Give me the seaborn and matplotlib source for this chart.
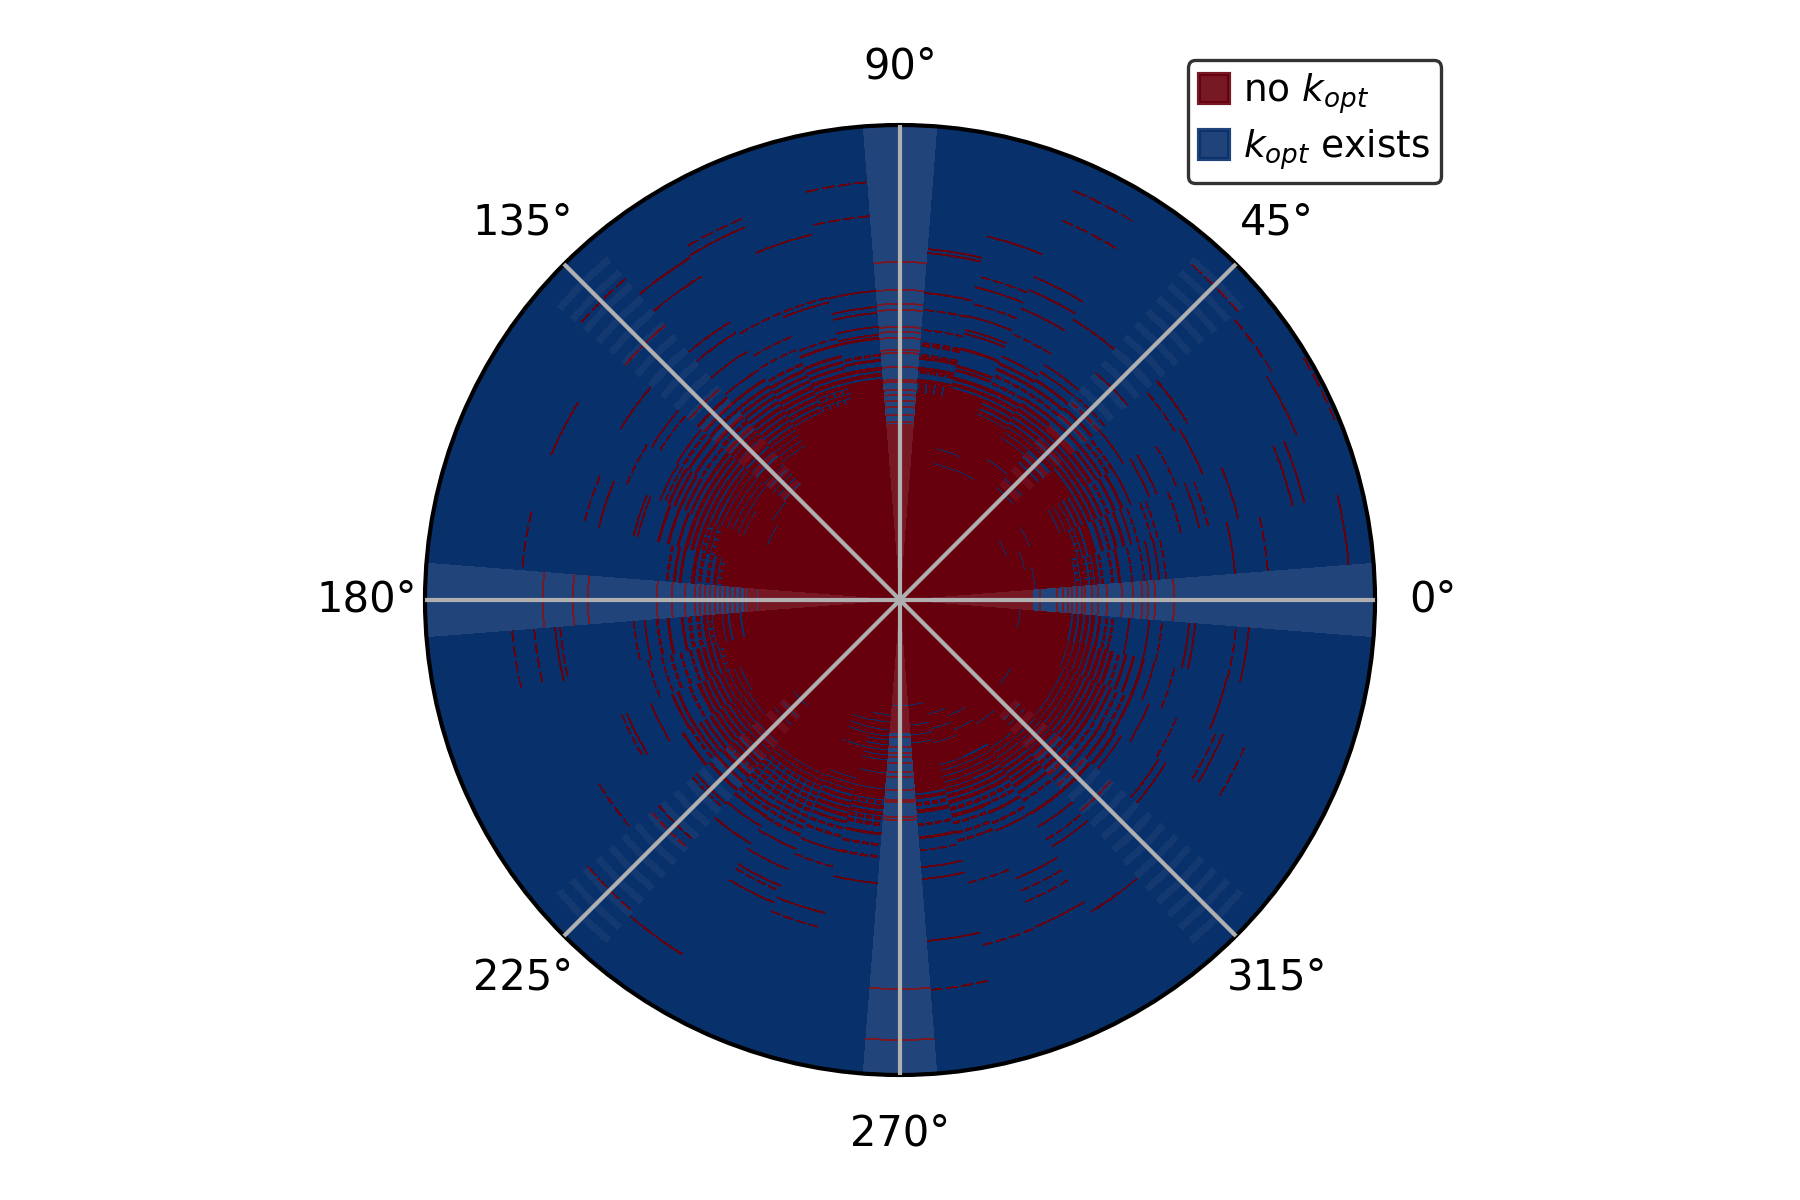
import numpy as np
import matplotlib
matplotlib.use("Agg")
import matplotlib.pyplot as plt
from matplotlib.colors import ListedColormap
from matplotlib.patches import Patch
import seaborn as sns

# Radial extent of the disc and angular sectors (degrees, sector k is centred on 9*k)
R_MAX = 475
N_SECTORS = 40
CELLS_PER_SECTOR = 36
WEDGE_SECTORS = [0, 10, 20, 30]
DIAGONAL_SECTORS = [5, 15, 25, 35]

# Solid "no k_opt" radius per sector
core_r = [133, 142, 148, 158, 168, 176, 174, 174, 174, 175,
          176, 174, 174, 174, 172, 188, 170, 164, 161, 150,
          153, 154, 153, 163, 168, 178, 170, 171, 168, 168,
          131, 156, 164, 158, 164, 174, 168, 168, 163, 139]

# Thin rings where a "k_opt exists" arc cuts the solid core
blue_r = [[], [135], [128], [115, 140], [], [148, 160], [165], [141], [140, 155], [],
          [], [], [], [], [], [153, 160, 166, 172, 178], [150], [143], [], [],
          [142], [], [], [], [], [140, 155, 165], [], [], [123, 130, 136, 150], [115, 122, 130, 136, 140, 145, 150, 155, 160],
          [105], [105, 125, 135, 143], [117, 132, 146], [125, 140], [145], [158, 165], [130], [], [], [120]]

# Rings with no k_opt outside the core, per sector
red_r = [
    [274, 255, 248, 242, 233, 222, 207, 198, 192, 185, 182, 177, 172, 168, 163, 157, 140],
    [450, 369, 336, 267, 260, 252, 245, 233, 220, 213, 203, 198, 193, 187, 184, 179, 174, 169, 165, 161, 157, 152, 147, 144],
    [416, 404, 348, 317, 308, 289, 265, 259, 245, 238, 230, 222, 215, 208, 200, 196, 190, 185, 180, 175, 170, 165, 160, 155, 150],
    [471, 430, 328, 299, 278, 270, 250, 240, 232, 225, 218, 212, 206, 200, 194, 188, 182, 176, 170, 165, 160],
    [437, 338, 323, 262, 249, 243, 236, 230, 224, 218, 212, 206, 200, 195, 190, 185, 180, 175, 170],
    [445, 300, 269, 261, 252, 244, 236, 228, 224, 218, 212, 206, 200, 192, 185, 178],
    [330, 276, 268, 258, 250, 243, 236, 230, 224, 218, 212, 206, 200, 194, 188, 184, 180, 176],
    [445, 413, 350, 336, 316, 289, 264, 256, 250, 243, 235, 228, 222, 216, 210, 204, 198, 193, 188, 184, 180, 176],
    [374, 333, 322, 305, 292, 278, 274, 258, 240, 236, 228, 222, 216, 212, 208, 204, 200, 196, 192, 188, 184, 180, 176],
    [352, 348, 308, 291, 271, 257, 255, 245, 242, 232, 229, 220, 217, 213, 209, 206, 203, 199, 194, 191, 187, 184, 181, 177],
    [338, 310, 296, 290, 273, 268, 262, 250, 247, 233, 220, 218, 210, 205, 199, 193, 185, 178],
    [419, 385, 310, 294, 288, 274, 266, 262, 245, 240, 232, 226, 220, 216, 212, 208, 204, 200, 196, 192, 188, 184, 180, 176],
    [376, 311, 306, 269, 262, 250, 244, 238, 232, 226, 220, 215, 210, 205, 200, 196, 192, 188, 184, 180, 176],
    [413, 404, 311, 285, 271, 255, 248, 242, 236, 230, 224, 218, 212, 206, 200, 195, 190, 185, 180, 176],
    [402, 380, 326, 314, 292, 270, 258, 250, 244, 238, 232, 226, 220, 214, 208, 202, 196, 190, 184, 178, 174],
    [423, 362, 278, 266, 258, 250, 242, 235, 228, 222, 216, 210, 205, 198, 192],
    [328, 292, 283, 262, 255, 248, 240, 233, 226, 220, 214, 208, 202, 196, 190, 184, 178, 172],
    [378, 297, 260, 255, 250, 244, 238, 232, 226, 220, 214, 208, 202, 196, 190, 184, 178, 172, 166],
    [325, 310, 274, 270, 248, 238, 228, 220, 214, 208, 203, 198, 193, 188, 183, 178, 173, 168, 163],
    [379, 233, 226, 220, 208, 201, 193, 186, 181, 176, 171, 166, 161, 156, 151],
    [357, 327, 312, 243, 228, 215, 205, 200, 195, 190, 185, 180, 175, 170, 165, 160, 155],
    [389, 367, 346, 341, 267, 256, 243, 232, 218, 211, 203, 196, 191, 186, 181, 175, 168, 163, 156],
    [259, 245, 235, 225, 215, 208, 202, 196, 190, 185, 180, 175, 170, 165, 160, 155],
    [301, 296, 270, 246, 240, 227, 218, 212, 206, 200, 194, 188, 182, 176, 170, 165],
    [353, 254, 245, 240, 234, 228, 222, 216, 210, 204, 198, 192, 186, 180, 174, 170],
    [411, 327, 317, 273, 268, 250, 240, 232, 225, 220, 214, 208, 202, 196, 190, 184, 180],
    [416, 286, 266, 254, 247, 242, 235, 229, 223, 217, 211, 205, 199, 193, 187, 182, 177, 172],
    [328, 315, 310, 292, 270, 255, 247, 241, 235, 229, 223, 217, 211, 205, 199, 193, 187, 182, 177, 173],
    [337, 322, 275, 258, 243, 235, 228, 222, 216, 210, 204, 198, 192, 186, 180, 175, 170],
    [284, 257, 245, 234, 225, 219, 214, 208, 203, 197, 192, 186, 181, 176, 170],
    [440, 389, 220, 217, 202, 200, 190, 177, 172, 163, 157, 153, 147, 137, 132],
    [391, 342, 280, 268, 251, 238, 225, 212, 205, 198, 192, 188, 184, 180, 176, 172, 168, 163, 158],
    [355, 291, 247, 239, 229, 222, 215, 208, 202, 196, 190, 184, 178, 172, 166],
    [354, 327, 315, 302, 250, 241, 230, 221, 215, 208, 202, 196, 190, 184, 178, 172, 165, 160],
    [366, 290, 281, 266, 250, 235, 226, 218, 212, 206, 200, 194, 188, 182, 176, 170, 166],
    [278, 250, 243, 236, 229, 222, 215, 208, 200, 194, 188, 182, 176],
    [312, 304, 260, 252, 244, 236, 229, 222, 216, 210, 204, 198, 192, 186, 180, 174, 170],
    [375, 350, 343, 301, 270, 250, 243, 235, 228, 222, 216, 210, 204, 198, 192, 186, 180, 174, 170],
    [336, 283, 262, 250, 240, 232, 225, 218, 212, 206, 200, 194, 188, 182, 176, 170, 165],
    [350, 337, 296, 290, 263, 250, 230, 213, 207, 200, 194, 188, 182, 176, 170, 165, 160, 155, 150, 145, 141],
]

# Start radii of the dotted stripes on the diagonals
stripe_r = [152, 170, 188, 206, 224, 241, 258, 275, 292, 309, 326,
            343, 360, 377, 394, 411, 428, 445]

legend_labels = ["no $k_{opt}$", "$k_{opt}$ exists"]

sns.set_theme(style="ticks", font="DejaVu Sans",
              rc={"font.size": 10, "xtick.labelsize": 10, "legend.fontsize": 9,
                  "xtick.major.size": 3.5, "xtick.major.width": 0.8, "text.color": "black"})
# 0/1 plain cells, 2/3 the lighter axis wedges, 4/5 the diagonal stripes
palette = sns.color_palette(["#08306b", "#67000d", "#21457a", "#761925", "#143870", "#6e0c1c"])
cmap = ListedColormap(palette)

n_theta = N_SECTORS * CELLS_PER_SECTOR
r_edges = np.arange(0, R_MAX + 1)
r_mid = r_edges[:-1] + 0.5
theta_edges = np.radians(np.arange(n_theta + 1) * 9 / CELLS_PER_SECTOR - 4.5)

Z = np.zeros((R_MAX, n_theta), dtype=int)
for k in range(N_SECTORS):
    a, b = k * CELLS_PER_SECTOR, (k + 1) * CELLS_PER_SECTOR
    cols = np.arange(a, b)
    wedge = k in WEDGE_SECTORS
    Z[r_mid < core_r[k], a:b] = 1
    for r in red_r[k]:
        extra = r - core_r[k]
        width = 5.0 if extra < 30 else 4.0 if extra < 60 else 3.0 if extra < 90 else 1.6
        if wedge:
            width = min(width, 1.6)
        rows = np.abs(r_mid - (r + 0.25)) < width / 2
        shown = cols
        # some rings are drawn dashed, as they are in the picture
        if not wedge and extra >= 30 and r % 2 == 1:
            shown = cols[(cols % 9) < 7]
        for ir in np.where(rows)[0]:
            Z[ir, shown] = 1
    for r in blue_r[k]:
        Z[np.abs(r_mid - (r + 0.25)) < 0.5, a:b] = 0
    if wedge:
        Z[:, a:b] += 2
    if k in DIAGONAL_SECTORS:
        for s in stripe_r:
            Z[(r_mid >= s) & (r_mid < s + 7), a:b] += 4

fig = plt.figure(figsize=(6, 4), dpi=300)
ax = fig.add_axes([(900 - 475) / 1800, (600 - 475) / 1200, 950 / 1800, 950 / 1200], projection="polar")
ax.pcolormesh(theta_edges, r_edges, Z, cmap=cmap, vmin=-0.5, vmax=5.5, shading="flat",
              antialiased=False, linewidth=0, rasterized=True)
ax.set_rlim(0, R_MAX)
ax.set_rticks([])
ax.set_thetagrids(np.arange(0, 360, 45))
ax.set_axisbelow(False)
ax.grid(True, color="#b0b0b0", linewidth=1.0)
ax.tick_params(axis="x", colors="black", labelcolor="black")
ax.spines["polar"].set_color("black")
ax.spines["polar"].set_linewidth(1.0)

handles = [Patch(color=palette[1], alpha=0.9), Patch(color=palette[0], alpha=0.9)]
leg = ax.legend(handles, legend_labels, loc="upper right", bbox_to_anchor=(1441 / 1800, 1 - 60 / 1200),
                bbox_transform=fig.transFigure, borderaxespad=0, frameon=True, fancybox=True,
                edgecolor="black", facecolor="white", framealpha=0.8, handlelength=0.8,
                handleheight=0.8, handletextpad=0.36, labelspacing=0.3, borderpad=0.3)
leg.get_frame().set_linewidth(0.8)
for t in leg.get_texts():
    t.set_color("black")

fig.savefig("out.png", dpi=300, facecolor="white")
